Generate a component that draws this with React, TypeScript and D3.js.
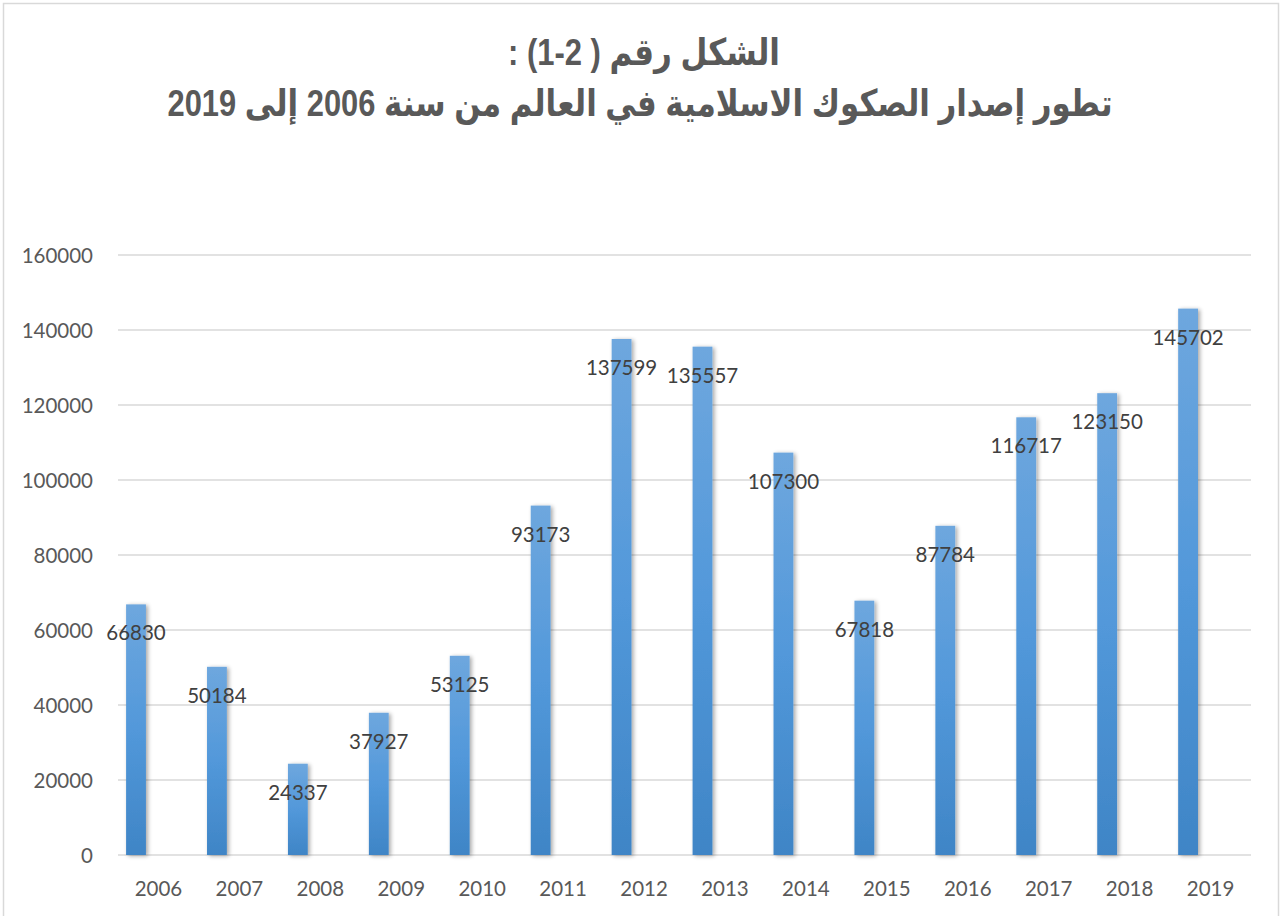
import React from "react";
import * as d3 from "d3";

const years = ["2006","2007","2008","2009","2010","2011","2012","2013","2014","2015","2016","2017","2018","2019"];
const values = [66830,50184,24337,37927,53125,93173,137599,135557,107300,67818,87784,116717,123150,145702];
const yTicks = [0,20000,40000,60000,80000,100000,120000,140000,160000];
const titleLine1 = "الشكل رقم ( 2-1) :";
const titleLine2 = "تطور  إصدار الصكوك الاسلامية في العالم من سنة 2006 إلى 2019";

const W = 1282, H = 916;
const left = 118, right = 1251, top = 255, bottom = 855;

export default function App() {
  const x = d3.scaleBand<string>().domain(years).range([left, right]).paddingInner(0).paddingOuter(0);
  const y = d3.scaleLinear().domain([0, 160000]).range([bottom, top]);
  const bw = x.bandwidth();
  const barOffset = bw * 0.1;
  const barW = bw * 0.245;
  const font = "Lato, 'Open Sans', sans-serif";
  return (
    <svg width={W} height={H} style={{ position: "absolute", left: 0, top: 0, background: "#fff" }}>
      <defs>
        <linearGradient id="barGrad" x1="0" y1="0" x2="0" y2="1">
          <stop offset="0" stopColor="#6ea7de" />
          <stop offset="0.5" stopColor="#5298da" />
          <stop offset="1" stopColor="#3f85c6" />
        </linearGradient>
        <filter id="shadow" x="-50%" y="-10%" width="200%" height="120%">
          <feGaussianBlur in="SourceAlpha" stdDeviation="2" />
          <feOffset dx="2" dy="1" result="b" />
          <feComponentTransfer><feFuncA type="linear" slope="0.35" /></feComponentTransfer>
          <feMerge><feMergeNode /><feMergeNode in="SourceGraphic" /></feMerge>
        </filter>
      </defs>
      <rect x={3.5} y={3.5} width={1275} height={940} fill="#fff" stroke="#d9d9d9" strokeWidth={1.5} />
      <g fontFamily="'Liberation Sans', 'DejaVu Sans', Arial, sans-serif" fontWeight="bold" fill="#595959" fontSize={37} textAnchor="middle" direction="rtl">
        <text x={644} y={52} dominantBaseline="central" textLength={272} lengthAdjust="spacingAndGlyphs">{titleLine1}</text>
        <text x={640} y={103} dominantBaseline="central" textLength={945} lengthAdjust="spacingAndGlyphs">{titleLine2}</text>
      </g>
      {yTicks.map(t => (
        <g key={t}>
          <line x1={left} x2={right} y1={y(t)} y2={y(t)} stroke="#d9d9d9" strokeWidth={1.5} />
          <text x={93} y={y(t)} dominantBaseline="central" textAnchor="end" fontFamily={font} fontSize={20.5} fill="#595959">{t}</text>
        </g>
      ))}
      {years.map(yr => (
        <text key={yr} x={(x(yr) as number) + bw / 2} y={888} dominantBaseline="central" textAnchor="middle" fontFamily={font} fontSize={20.5} fill="#595959">{yr}</text>
      ))}
      {years.map((yr, i) => (
        <rect key={yr} x={(x(yr) as number) + barOffset} y={y(values[i])} width={barW} height={bottom - y(values[i])} fill="url(#barGrad)" filter="url(#shadow)" />
      ))}
      {years.map((yr, i) => (
        <text key={yr} x={(x(yr) as number) + barOffset + barW / 2} y={y(values[i]) + 28} dominantBaseline="central" textAnchor="middle" fontFamily={font} fontSize={20.5} fill="#404040">{values[i]}</text>
      ))}
    </svg>
  );
}
